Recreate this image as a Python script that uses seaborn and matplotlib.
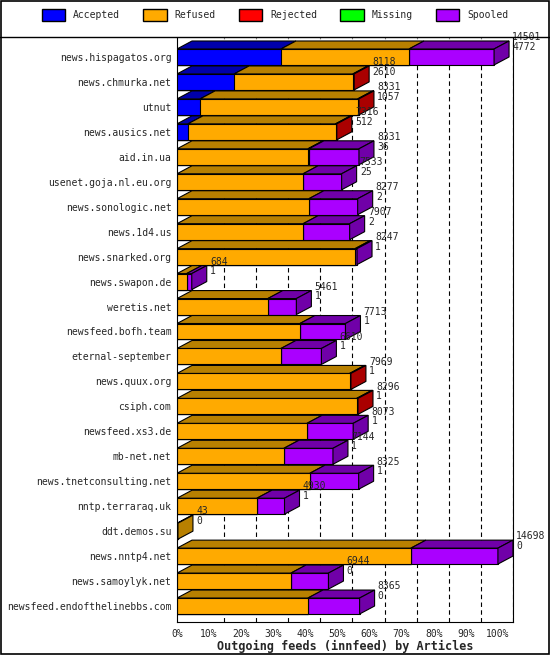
import numpy as np
import matplotlib
matplotlib.use("Agg")
import matplotlib.pyplot as plt
import seaborn as sns
from matplotlib.patches import Polygon, Patch

sns.set_style("white")
plt.rcParams['font.family'] = ['DejaVu Sans Mono']

# feeds and segment shares (% of largest feed)
feeds = ["news.hispagatos.org", "news.chmurka.net", "utnut", "news.ausics.net", "aid.in.ua",
         "usenet.goja.nl.eu.org", "news.sonologic.net", "news.1d4.us", "news.snarked.org",
         "news.swapon.de", "weretis.net", "newsfeed.bofh.team", "eternal-september",
         "news.quux.org", "csiph.com", "newsfeed.xs3.de", "mb-net.net", "news.tnetconsulting.net",
         "nntp.terraraq.uk", "ddt.demos.su", "news.nntp4.net", "news.samoylyk.net",
         "newsfeed.endofthelinebbs.com"]
accepted = [32.4, 17.8, 7.2, 3.4, 0, 0, 0, 0, 0, 0, 0, 0, 0, 0, 0, 0, 0, 0, 0, 0, 0, 0, 0]
refused = [39.9, 37.0, 49.1, 46.0, 40.8, 39.3, 41.1, 39.3, 55.5, 3.0, 28.3, 38.3, 32.4,
           53.8, 56.0, 40.5, 33.3, 41.4, 24.9, 0.3, 72.9, 35.5, 40.8]
rejected = [0, 0.4, 0.4, 0.4, 0.3, 0, 0, 0, 0, 0, 0, 0, 0, 0.4, 0.4, 0, 0, 0, 0, 0, 0, 0, 0]
missing = [0] * 23
spooled = [26.5, 0, 0, 0, 15.6, 12.0, 15.2, 14.5, 0.6, 1.6, 8.9, 14.2, 12.6, 0, 0, 14.4,
           15.3, 15.2, 8.6, 0, 27.1, 11.7, 16.1]
total_articles = [14501, 8118, 8331, 7316, 8331, 7533, 8277, 7907, 8247, 684, 5461, 7713, 6610,
                  7969, 8296, 8073, 7144, 8325, 4930, 43, 14698, 6944, 8365]
accepted_articles = [4772, 2610, 1057, 512, 36, 25, 2, 2, 1, 1, 1, 1, 1, 1, 1, 1, 1, 1, 1, 0, 0, 0, 0]
series = ["Accepted", "Refused", "Rejected", "Missing", "Spooled"]
ticks = [0, 10, 20, 30, 40, 50, 60, 70, 80, 90, 100]

front = ["#0000ff", "#ffaa00", "#ff0000", "#00ff00", "#aa00ff"]
dark = ["#0000aa", "#b88000", "#aa0000", "#00aa00", "#7000a8"]

segs = np.array([accepted, refused, rejected, missing, spooled])
cum = np.cumsum(segs, axis=0)

fig = plt.figure(figsize=(5.5, 6.55), dpi=100)
ax = fig.add_axes([177 / 550, 1 - 622 / 655, 336 / 550, 584 / 655])

h = 0.64
dx = 4.67
dy = 0.32

# stacked front faces: draw longest cumulative first
for k in range(4, -1, -1):
    sns.barplot(x=cum[k], y=feeds, orient="h", color=front[k], width=h,
                edgecolor="black", linewidth=0.8, ax=ax, saturation=1, zorder=3)

for i in range(len(feeds)):
    top = i - h / 2
    start = 0
    last = None
    for k in range(5):
        a, b = start, cum[k][i]
        if b - a > 0:
            ax.add_patch(Polygon([(a, top), (b, top), (b + dx, top - dy), (a + dx, top - dy)],
                                 closed=True, fc=dark[k], ec="black", lw=0.8, zorder=4))
            last = k
        start = b
    if last is None:
        last = 1
    e = cum[4][i]
    ax.add_patch(Polygon([(e, top), (e + dx, top - dy), (e + dx, top + h - dy), (e, top + h)],
                         closed=True, fc=dark[last], ec="black", lw=0.8, zorder=4))
    ax.text(e + dx + 1.0, top - dy - 0.35, f"{total_articles[i]}\n{accepted_articles[i]}",
            va="top", ha="left", fontsize=7, linespacing=0.95, zorder=5, clip_on=False)

for t in ticks[1:]:
    ax.axvline(t + dx, color="black", lw=0.8, ls=(0, (4, 3)), zorder=1)

ax.set_xlim(0, 104.7)
ax.set_ylim(22.64, -0.76)
ax.set_xticks(ticks)
ax.set_xticklabels([f"{t}%" for t in ticks], fontsize=7)
ax.tick_params(axis="y", labelsize=7, length=0, pad=4)
ax.tick_params(axis="x", length=3, direction="out", pad=2)
ax.set_xlabel("Outgoing feeds (innfeed) by Articles", fontweight="bold", fontsize=8.5, labelpad=1)
ax.set_ylabel("")
for s in ["top", "left", "right", "bottom"]:
    ax.spines[s].set_visible(s != "top")
    ax.spines[s].set_color("black")
    ax.spines[s].set_linewidth(0.8)

handles = [Patch(facecolor=front[k], edgecolor="black", label=series[k]) for k in range(5)]
fig.legend(handles=handles, loc="upper center", ncol=5, frameon=False, fontsize=7,
           bbox_to_anchor=(0.5, 1.0), handlelength=2.4, handleheight=1.5, columnspacing=2.4)

fig.add_artist(plt.Line2D([0, 1], [1 - 37 / 655] * 2, color="black", lw=1))
fig.add_artist(plt.Rectangle((0.002, 0.002), 0.996, 0.996, fill=False, ec="black", lw=1.2))

fig.savefig("out.png", dpi=100)
